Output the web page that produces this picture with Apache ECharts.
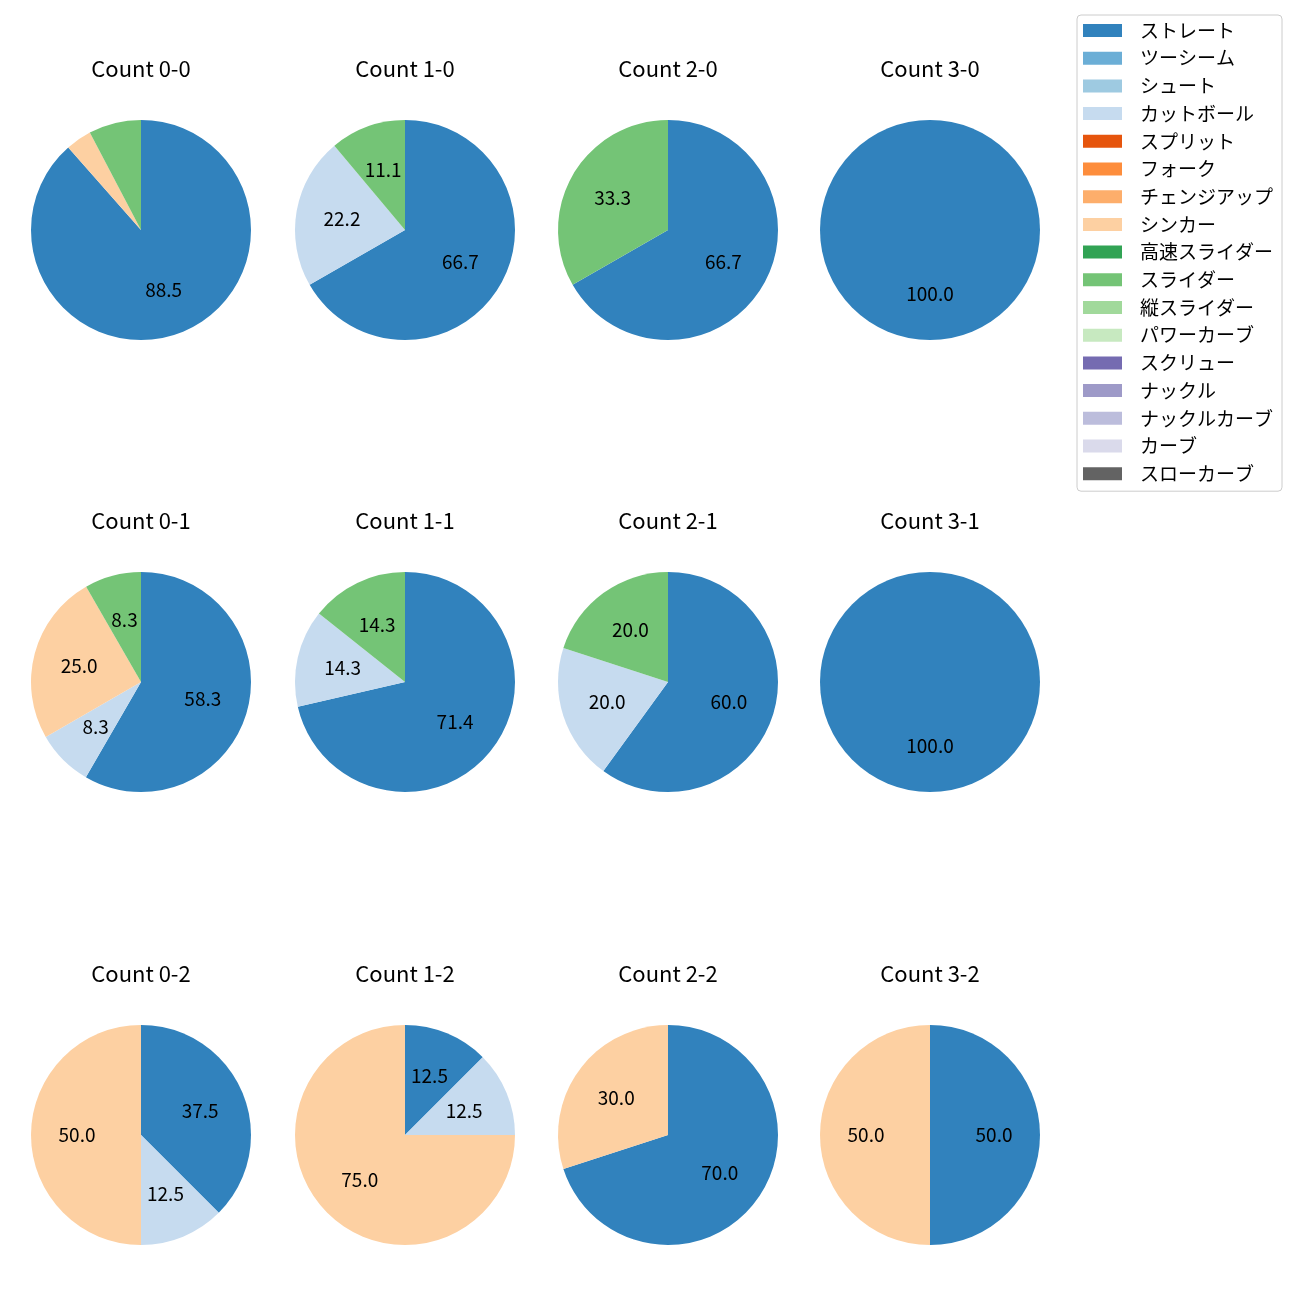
<!DOCTYPE html>
<html>
<head>
<meta charset="utf-8">
<script src="https://cdn.jsdelivr.net/npm/echarts@6/dist/echarts.min.js"></script>
<style>html,body{margin:0;padding:0;background:#fff}#main{width:1300px;height:1300px}</style>
</head>
<body>
<div id="main"></div>
<script>
const pitchNames = ['ストレート','ツーシーム','シュート','カットボール','スプリット','フォーク','チェンジアップ','シンカー','高速スライダー','スライダー','縦スライダー','パワーカーブ','スクリュー','ナックル','ナックルカーブ','カーブ','スローカーブ'];
const pitchColors = ['#3182bd','#6baed6','#9ecae1','#c6dbef','#e6550d','#fd8d3c','#fdae6b','#fdd0a2','#31a354','#74c476','#a1d99b','#c7e9c0','#756bb1','#9e9ac8','#bcbddc','#dadaeb','#636363'];

// percentages in legend order
const count00 = [88.5,0,0,0,0,0,0,3.8,0,7.7,0,0,0,0,0,0,0];
const count10 = [66.7,0,0,22.2,0,0,0,0,0,11.1,0,0,0,0,0,0,0];
const count20 = [66.7,0,0,0,0,0,0,0,0,33.3,0,0,0,0,0,0,0];
const count30 = [100,0,0,0,0,0,0,0,0,0,0,0,0,0,0,0,0];
const count01 = [58.3,0,0,8.3,0,0,0,25.0,0,8.3,0,0,0,0,0,0,0];
const count11 = [71.4,0,0,14.3,0,0,0,0,0,14.3,0,0,0,0,0,0,0];
const count21 = [60.0,0,0,20.0,0,0,0,0,0,20.0,0,0,0,0,0,0,0];
const count31 = [100,0,0,0,0,0,0,0,0,0,0,0,0,0,0,0,0];
const count02 = [37.5,0,0,12.5,0,0,0,50.0,0,0,0,0,0,0,0,0,0];
const count12 = [12.5,0,0,12.5,0,0,0,75.0,0,0,0,0,0,0,0,0,0];
const count22 = [70.0,0,0,0,0,0,0,30.0,0,0,0,0,0,0,0,0,0];
const count32 = [50.0,0,0,0,0,0,0,50.0,0,0,0,0,0,0,0,0,0];

const countTitles = ['Count 0-0','Count 1-0','Count 2-0','Count 3-0','Count 0-1','Count 1-1','Count 2-1','Count 3-1','Count 0-2','Count 1-2','Count 2-2','Count 3-2'];
const countValues = [count00,count10,count20,count30,count01,count11,count21,count31,count02,count12,count22,count32];

const colX = [141, 405, 668, 930];
const rowY = [230, 682, 1135];
const R = 110;
const FONT = '"Noto Sans CJK JP", "Noto Sans", sans-serif';

const series = [];
const titles = [];
// dummy series carrying every legend entry
series.push({
  type: 'pie', radius: [0, 0], center: [-100, -100], silent: true,
  label: {show: false}, labelLine: {show: false},
  data: pitchNames.map((n, i) => ({name: n, value: 1, itemStyle: {color: pitchColors[i]}}))
});

countValues.forEach((vals, k) => {
  const cx = colX[k % 4], cy = rowY[Math.floor(k / 4)];
  const data = [];
  vals.forEach((v, i) => { if (v > 0) data.push({name: pitchNames[i], value: v}); });
  series.push({
    type: 'pie', radius: [0, R], center: [cx, cy], startAngle: 90, clockwise: true,
    silent: true, animation: false, avoidLabelOverlap: false,
    label: {show: false}, labelLine: {show: false}, emphasis: {disabled: true},
    data: data.map(d => ({name: d.name, value: d.value,
      itemStyle: {color: pitchColors[pitchNames.indexOf(d.name)], borderWidth: 0}}))
  });
  series.push({
    type: 'pie', radius: [12, R], center: [cx, cy], startAngle: 90, clockwise: true,
    silent: true, animation: false, avoidLabelOverlap: false,
    labelLine: {show: false}, emphasis: {disabled: true},
    label: {position: 'inside', fontFamily: FONT, fontSize: 19, color: '#000'},
    data: data.map(d => ({name: d.name, value: d.value,
      itemStyle: {color: 'rgba(0,0,0,0)', borderWidth: 0},
      label: {show: d.value >= 8, formatter: d.value.toFixed(1)}}))
  });
  titles.push({
    text: countTitles[k], left: cx, top: cy - R - 62, textAlign: 'center', padding: 0,
    textStyle: {fontFamily: FONT, fontSize: 22, fontWeight: 'normal', color: '#000'}
  });
});

const chart = echarts.init(document.getElementById('main'));
chart.setOption({
  animation: false,
  title: titles,
  legend: {
    orient: 'vertical', left: 1077, top: 15,
    data: pitchNames, selectedMode: false,
    icon: 'rect', itemWidth: 39, itemHeight: 13, itemGap: 8.7,
    padding: [6, 9, 8, 6],
    borderColor: '#cccccc', borderWidth: 1, borderRadius: 4,
    textStyle: {fontFamily: FONT, fontSize: 19, color: '#000', padding: [0, 0, 0, 13]}
  },
  series: series
});
</script>
</body>
</html>
